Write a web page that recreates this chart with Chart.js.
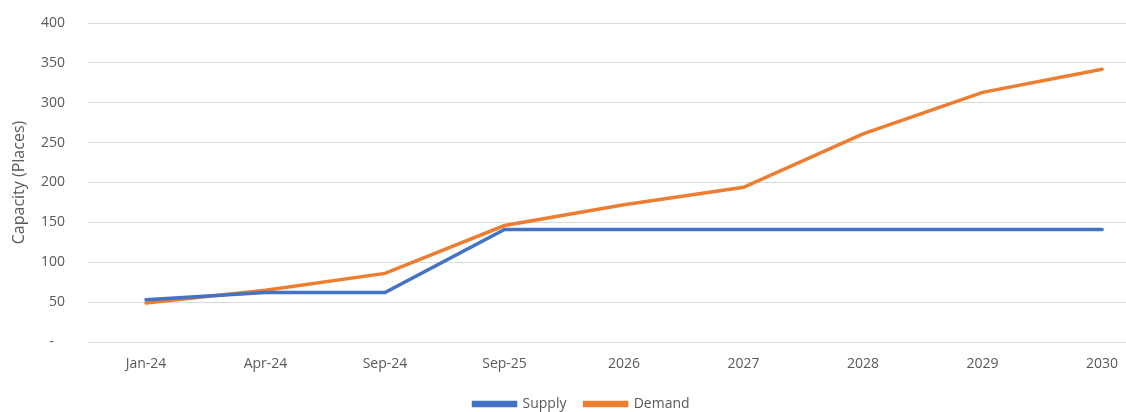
<!DOCTYPE html>
<html>
<head>
<meta charset="utf-8">
<script src="https://cdn.jsdelivr.net/npm/chart.js@4.4.1/dist/chart.umd.min.js"></script>
<style>
  html, body { margin: 0; padding: 0; background: #fff; }
  #wrap { width: 1126px; height: 412px; }
</style>
</head>
<body>
<div id="wrap"><canvas id="lineChart"></canvas></div>
<script>
const categories = ["Jan-24", "Apr-24", "Sep-24", "Sep-25", "2026", "2027", "2028", "2029", "2030"];
const supply = [53, 62, 62, 141, 141, 141, 141, 141, 141];
const demand = [49, 65, 86, 146, 172, 194, 261, 313, 342];
const yTicks = [0, 50, 100, 150, 200, 250, 300, 350, 400];

const font = { family: "'Open Sans', 'Noto Sans', sans-serif", size: 14 };
const grey = "#595959";

const toPoints = (arr) => arr.map((v, i) => ({ x: i, y: v }));

let data = {
  datasets: [
    {
      label: "Supply",
      data: toPoints(supply),
      borderColor: "#4472C4",
      backgroundColor: "#4472C4",
      borderWidth: 3.5,
      pointRadius: 0,
      tension: 0,
      borderCapStyle: "round"
    },
    {
      label: "Demand",
      data: toPoints(demand),
      borderColor: "#ED7D31",
      backgroundColor: "#ED7D31",
      borderWidth: 3.5,
      pointRadius: 0,
      tension: 0,
      borderCapStyle: "round"
    }
  ]
};

let config = {
  type: "line",
  data: data,
  options: {
    responsive: true,
    maintainAspectRatio: false,
    animation: false,
    layout: { padding: { top: 0, right: 0, left: 0, bottom: -9 } },
    plugins: {
      tooltip: { enabled: false },
      legend: {
        position: "bottom",
        fullSize: false,
        labels: {
          color: grey,
          font: font,
          boxWidth: 42,
          boxHeight: 3,
          padding: 0,
          // spaces: gap after the first item, and nudge the block a bit left
          generateLabels: (chart) =>
            Chart.defaults.plugins.legend.labels
              .generateLabels(chart)
              .map((l, i) => ({ ...l, text: l.text + (i === 0 ? "     " : "              ") }))
        }
      }
    },
    scales: {
      x: {
        type: "linear",
        min: -0.485,
        max: 8.2,
        grid: { display: false },
        border: { display: false },
        afterBuildTicks: (scale) => {
          scale.ticks = categories.map((c, i) => ({ value: i }));
        },
        afterFit: (scale) => { scale.height = 55; },
        ticks: {
          color: grey,
          font: font,
          padding: 6,
          maxRotation: 0,
          autoSkip: false,
          callback: (value) => categories[value]
        }
      },
      y: {
        min: 0,
        max: 400,
        afterBuildTicks: (scale) => {
          scale.ticks = yTicks.map((v) => ({ value: v }));
        },
        afterFit: (scale) => {
          scale.width = 88;
          scale.paddingTop = 23;
          scale.paddingBottom = 0;
        },
        grid: { color: "#D9D9D9", lineWidth: 1, drawTicks: false },
        border: { display: false },
        title: {
          display: true,
          text: "Capacity (Places)",
          color: grey,
          font: { family: font.family, size: 16 },
          padding: { top: 10, bottom: 0 }
        },
        ticks: {
          color: grey,
          font: font,
          padding: 23,
          callback: (value) => (value === 0 ? "-   " : value)
        }
      }
    }
  }
};

const chart = new Chart(document.getElementById("lineChart"), config);
</script>
</body>
</html>
